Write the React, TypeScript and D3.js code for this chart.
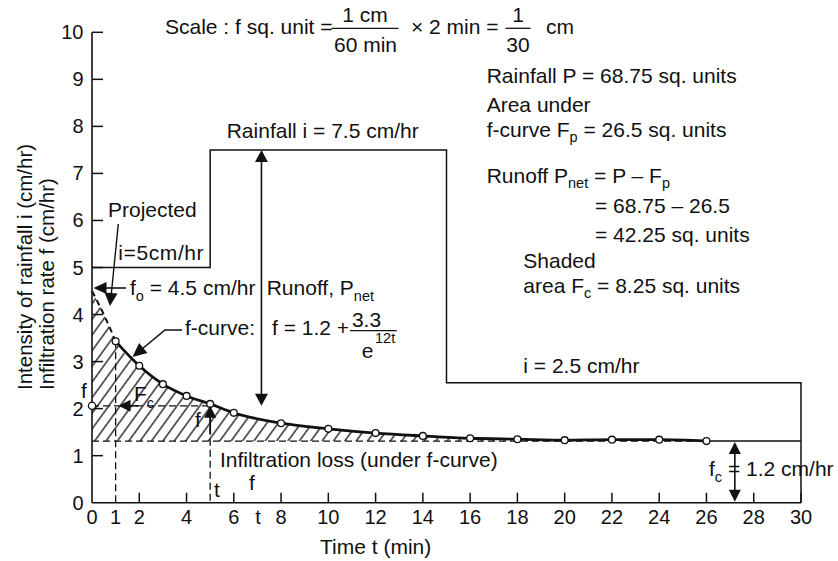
import React from "react";
import * as d3 from "d3";

// ---------- data ----------
const xTickValues = [2, 4, 6, 8, 10, 12, 14, 16, 18, 20, 22, 24, 26, 28, 30];
const xLabelValues = [0, 1, 2, 4, 6, 8, 10, 12, 14, 16, 18, 20, 22, 24, 26, 28, 30];
const yTickValues = [0, 1, 2, 3, 4, 5, 6, 7, 8, 9, 10];

const rainStart = [0, 5, 15];
const rainEnd = 30;
const rainIntensity = [5, 7.5, 2.55];

const fTimes = [1, 2, 3, 4, 5, 6, 8, 10, 12, 14, 16, 18, 20, 22, 24, 26];
const fValues = [3.43, 2.91, 2.52, 2.27, 2.1, 1.91, 1.69, 1.57, 1.48, 1.42, 1.37, 1.35, 1.33, 1.34, 1.34, 1.31];

const projTimes = [0, 0.5, 1];
const projValues = [4.5, 4.0, 3.43];

const fcLevel = 1.31;
const fMarkLevel = 2.06;
const fMarkTime = 5;
const bigArrowTime = 7.17;
const fcArrowTime = 27.2;

// ---------- layout ----------
const W = 838;
const H = 561;
const FONT = "'Liberation Sans', Arial, Helvetica, sans-serif";
const FS = 21;
const TICK_FS = 20;
const SUB = 14.5;

const x = d3.scaleLinear().domain([0, 30]).range([92, 801]);
const y = d3.scaleLinear().domain([0, 10]).range([502.7, 32.3]);

function head(tx: number, ty: number, fromX: number, fromY: number, len = 12, half = 6) {
  const dx = tx - fromX;
  const dy = ty - fromY;
  const d = Math.hypot(dx, dy) || 1;
  const ux = dx / d;
  const uy = dy / d;
  const bx = tx - ux * len;
  const by = ty - uy * len;
  const px = -uy * half;
  const py = ux * half;
  return `${tx},${ty} ${bx + px},${by + py} ${bx - px},${by - py}`;
}

export default function App() {
  const rainPts: [number, number][] = rainStart.map((s, i) => [s, rainIntensity[i]]);
  rainPts.push([rainEnd, rainIntensity[rainIntensity.length - 1]]);
  rainPts.push([rainEnd, 0]);
  const rainPath = d3
    .line<[number, number]>()
    .x((d) => x(d[0]))
    .y((d) => y(d[1]))
    .curve(d3.curveStepAfter)(rainPts) as string;

  const fPts: [number, number][] = fTimes.map((t, i) => [t, fValues[i]]);
  const projPts: [number, number][] = projTimes.map((t, i) => [t, projValues[i]]);
  const lineGen = d3
    .line<[number, number]>()
    .x((d) => x(d[0]))
    .y((d) => y(d[1]))
    .curve(d3.curveMonotoneX);
  const fPath = lineGen(fPts) as string;
  const projPath = lineGen(projPts) as string;

  const allPts = [...projPts, ...fPts.slice(1)];
  const areaPath = d3
    .area<[number, number]>()
    .x((d) => x(d[0]))
    .y0(y(fcLevel))
    .y1((d) => y(d[1]))
    .curve(d3.curveMonotoneX)(allPts) as string;

  const text = { fontFamily: FONT, fontSize: FS, fill: "#111" } as const;
  const tickText = { fontFamily: FONT, fontSize: TICK_FS, fill: "#111" } as const;
  const dash = "7,4";

  const bx = x(bigArrowTime);
  const bTop = y(7.5);
  const bBot = y(fMarkLevel);
  const fcx = x(fcArrowTime);

  return (
    <svg
      width={W}
      height={H}
      viewBox={`0 0 ${W} ${H}`}
      style={{ position: "absolute", left: 0, top: 0, background: "#fff" }}
    >
      <defs>
        <pattern
          id="hatch"
          patternUnits="userSpaceOnUse"
          width={9.2}
          height={10}
          patternTransform="rotate(36)"
        >
          <line x1={4.6} y1={-2} x2={4.6} y2={12} stroke="#111" strokeWidth={1.3} />
        </pattern>
      </defs>

      {/* hatched area */}
      <path d={areaPath} fill="url(#hatch)" stroke="none" />

      {/* axes */}
      <line x1={x(0)} y1={y(0)} x2={x(30)} y2={y(0)} stroke="#111" strokeWidth={1.6} />
      <line x1={x(0)} y1={y(0)} x2={x(0)} y2={y(10)} stroke="#111" strokeWidth={1.6} />
      {yTickValues.map((v) => (
        <g key={"yt" + v}>
          {v > 0 && <line x1={x(0)} x2={x(0) + 11} y1={y(v)} y2={y(v)} stroke="#111" strokeWidth={1.5} />}
          <text {...tickText} x={x(0) - 8.5} y={y(v)} dy="0.35em" textAnchor="end">
            {v}
          </text>
        </g>
      ))}
      {xTickValues.map((v) => (
        <line key={"xt" + v} x1={x(v)} x2={x(v)} y1={y(0)} y2={y(0) - 10} stroke="#111" strokeWidth={1.5} />
      ))}
      {xLabelValues.map((v) => (
        <text key={"xl" + v} {...tickText} x={x(v)} y={524} textAnchor="middle">
          {v}
        </text>
      ))}
      <text {...tickText} x={x(7.03)} y={524} textAnchor="middle">t</text>

      <text {...text} x={320} y={554}>Time t (min)</text>
      <text {...text} fontSize={20.5} transform="translate(31.5,390) rotate(-90)">Intensity of rainfall i (cm/hr)</text>
      <text {...text} fontSize={20.5} transform="translate(54,390) rotate(-90)">Infiltration rate f (cm/hr)</text>

      {/* rainfall hyetograph */}
      <path d={rainPath} fill="none" stroke="#111" strokeWidth={1.5} />

      {/* fc line */}
      <line x1={x(0)} x2={x(26)} y1={y(fcLevel)} y2={y(fcLevel)} stroke="#111" strokeWidth={1.3} strokeDasharray={dash} />
      <line x1={x(26)} x2={x(30)} y1={y(fcLevel)} y2={y(fcLevel)} stroke="#111" strokeWidth={1.5} />

      {/* dashed guides */}
      <line x1={x(1)} x2={x(1)} y1={y(projValues[2])} y2={y(0)} stroke="#111" strokeWidth={1.3} strokeDasharray={dash} />
      <line x1={x(fMarkTime)} x2={x(fMarkTime)} y1={y(fMarkLevel)} y2={y(0)} stroke="#111" strokeWidth={1.3} strokeDasharray={dash} />
      <line x1={x(0)} x2={x(fMarkTime)} y1={y(fMarkLevel)} y2={y(fMarkLevel)} stroke="#111" strokeWidth={1.3} strokeDasharray={dash} />

      {/* curves */}
      <path d={projPath} fill="none" stroke="#111" strokeWidth={2} strokeDasharray="6,4" />
      <path d={fPath} fill="none" stroke="#111" strokeWidth={2.8} />
      {fPts.map((p, i) => (
        <circle key={"c" + i} cx={x(p[0])} cy={y(p[1])} r={3.4} fill="#fff" stroke="#111" strokeWidth={1.3} />
      ))}
      <circle cx={x(0)} cy={y(fMarkLevel)} r={3.6} fill="#fff" stroke="#111" strokeWidth={1.3} />

      {/* big double arrow (runoff) */}
      <line x1={bx} x2={bx} y1={bTop + 10} y2={bBot - 10} stroke="#111" strokeWidth={1.6} />
      <polygon points={head(bx, bTop, bx, bTop + 20, 12, 6.5)} fill="#111" />
      <polygon points={head(bx, bBot, bx, bBot - 20, 12, 6.5)} fill="#111" />

      {/* fc double arrow */}
      <line x1={fcx} x2={fcx} y1={y(fcLevel) + 10} y2={y(0) - 10} stroke="#111" strokeWidth={1.6} />
      <polygon points={head(fcx, y(fcLevel) + 1, fcx, y(fcLevel) + 20, 12, 6)} fill="#111" />
      <polygon points={head(fcx, y(0) - 1, fcx, y(0) - 20, 12, 6)} fill="#111" />

      {/* f_o arrow */}
      <line x1={103} x2={126} y1={288} y2={288} stroke="#111" strokeWidth={1.6} />
      <polygon points={head(93.5, 288, 110, 288, 13, 6)} fill="#111" />

      {/* projected arrow */}
      <line x1={118.3} y1={224} x2={111.3} y2={294} stroke="#111" strokeWidth={1.4} />
      <polygon points={head(110, 306, 111.3, 290, 13, 6.5)} fill="#111" />

      {/* f-curve arrow */}
      <polyline points="182,330 165,330 142,349" fill="none" stroke="#111" strokeWidth={1.6} />
      <polygon points={head(132.5, 357, 165, 330, 14, 6.5)} fill="#111" />

      {/* Fc arrow */}
      <line x1={126} x2={138} y1={y(fMarkLevel)} y2={y(fMarkLevel)} stroke="#111" strokeWidth={1.6} />
      <polygon points={head(118.5, y(fMarkLevel), 135, y(fMarkLevel), 12, 6)} fill="#111" />

      {/* f arrow at t=5 */}
      <line x1={x(fMarkTime)} x2={x(fMarkTime)} y1={y(fMarkLevel) + 10} y2={434} stroke="#111" strokeWidth={1.8} />
      <polygon points={head(x(fMarkTime), y(fMarkLevel), x(fMarkTime), y(fMarkLevel) + 20, 12, 6)} fill="#111" />

      {/* scale text */}
      <text {...text} x={165} y={34}>Scale : f sq. unit =</text>
      <text {...text} x={365} y={22} textAnchor="middle">1 cm</text>
      <line x1={331.5} x2={398.5} y1={28.3} y2={28.3} stroke="#111" strokeWidth={1.3} />
      <text {...text} x={365.5} y={52} textAnchor="middle">60 min</text>
      <text {...text} x={411} y={34}>× 2 min =</text>
      <text {...text} x={518} y={22} textAnchor="middle">1</text>
      <line x1={505.5} x2={530.5} y1={28.3} y2={28.3} stroke="#111" strokeWidth={1.3} />
      <text {...text} x={518} y={52} textAnchor="middle">30</text>
      <text {...text} x={546} y={34}>cm</text>

      {/* right block */}
      <text {...text} x={486.7} y={83.3}>Rainfall P = 68.75 sq. units</text>
      <text {...text} x={486.7} y={111.7}>Area under</text>
      <text {...text} x={486.7} y={136.7}>
        f-curve F<tspan fontSize={SUB} dy={5}>p</tspan>
        <tspan dy={-5}> = 26.5 sq. units</tspan>
      </text>
      <text {...text} x={486.7} y={183.3}>
        Runoff P<tspan fontSize={SUB} dy={5}>net</tspan>
        <tspan dy={-5}> = P – F</tspan>
        <tspan fontSize={SUB} dy={5}>p</tspan>
      </text>
      <text {...text} x={595} y={213.3}>= 68.75 – 26.5</text>
      <text {...text} x={595} y={241.7}>= 42.25 sq. units</text>
      <text {...text} x={523.3} y={268.3}>Shaded</text>
      <text {...text} x={523.3} y={293.3}>
        area F<tspan fontSize={SUB} dy={5}>c</tspan>
        <tspan dy={-5}> = 8.25 sq. units</tspan>
      </text>
      <text {...text} x={523.3} y={373.3}>i = 2.5 cm/hr</text>

      {/* middle annotations */}
      <text {...text} x={226.7} y={138.3}>Rainfall i = 7.5 cm/hr</text>
      <text {...text} x={108} y={216.7}>Projected</text>
      <text {...text} x={118.3} y={260} letterSpacing={0.6}>i=5cm/hr</text>
      <text {...text} x={130} y={295}>
        f<tspan fontSize={SUB} dy={6}>o</tspan>
        <tspan dy={-6}> = 4.5 cm/hr</tspan>
      </text>
      <text {...text} x={266.7} y={295}>
        Runoff, P<tspan fontSize={SUB} dy={6}>net</tspan>
      </text>
      <text {...text} x={185} y={335}>f-curve:</text>
      <text {...text} x={272} y={335}>f = 1.2 +</text>
      <text {...text} x={366.5} y={326.7} textAnchor="middle">3.3</text>
      <line x1={350} x2={396.7} y1={330.7} y2={330.7} stroke="#111" strokeWidth={1.3} />
      <text {...text} x={361.7} y={358.3}>e</text>
      <text {...text} fontSize={SUB} x={375} y={343.3}>12t</text>

      <text {...text} x={134} y={401}>
        F<tspan fontSize={SUB} dy={7}>c</tspan>
      </text>
      <text {...text} x={81} y={398}>f</text>
      <text {...text} x={195} y={427}>f</text>
      <text {...text} x={214} y={497}>t</text>
      <text {...text} x={249} y={490}>f</text>
      <text {...text} x={220} y={466.5}>Infiltration loss (under f-curve)</text>

      <text {...text} x={709} y={476}>
        f<tspan fontSize={SUB} dy={6}>c</tspan>
        <tspan dy={-6}> = 1.2 cm/hr</tspan>
      </text>
    </svg>
  );
}
